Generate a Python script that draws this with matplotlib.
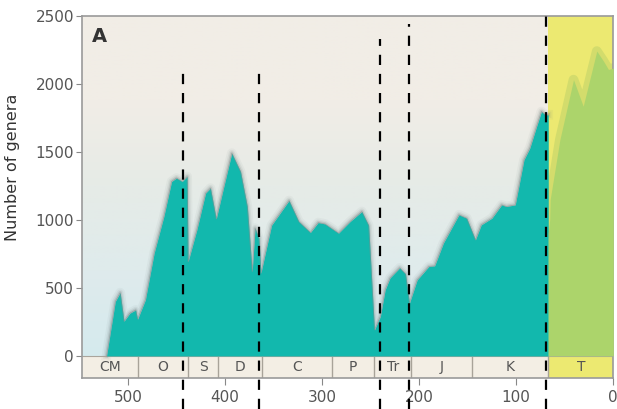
import numpy as np
import matplotlib.pyplot as plt
from matplotlib.colors import LinearSegmentedColormap

# marine genera through time (Myr ago -> number of genera)
ages = [522, 513, 508, 504, 498, 492, 490, 482, 473, 463, 455, 450, 444, 439, 438,
        429, 420, 415, 409, 402, 393, 384, 377, 372, 369, 365, 363, 360, 352, 334,
        324, 312, 304, 297, 283, 271, 259, 252, 246, 240, 235, 230, 220, 214, 210,
        202, 199, 190, 184, 175, 159, 151, 142, 136, 125, 115, 110, 101, 92, 86,
        79, 74, 70, 67]
genera = [0, 400, 465, 255, 314, 338, 270, 412, 755, 1024, 1282, 1307, 1282, 1318, 693,
          926, 1196, 1233, 1007, 1220, 1490, 1355, 1098, 620, 939, 865, 608, 705, 960, 1142,
          988, 907, 980, 970, 902, 988, 1061, 960, 191, 289, 485, 573, 647, 603, 387,
          559, 583, 657, 662, 829, 1037, 1012, 853, 963, 1012, 1110, 1098, 1110, 1441, 1527,
          1686, 1796, 1772, 1772]

# Tertiary part
t_ages = [67, 65.5, 65, 55, 41, 31, 17, 10, 5, 0]
t_genera = [900, 1000, 1150, 1590, 2030, 1835, 2240, 2165, 2105, 2115]

periods = ['CM', 'O', 'S', 'D', 'C', 'P', 'Tr', 'J', 'K', 'T']
bounds = [547, 490, 438, 407, 362, 290, 246, 208, 146, 67, 0]

extinctions = [443, 365, 240, 210, 69]
ext_tops = [2110, 2110, 2330, 2440, 2550]

fig = plt.figure(figsize=(6.17, 4.09), dpi=100)
ax = fig.add_axes([0.1334, 0.0758, 0.8606, 0.8858])
ax.set_xlim(547, 0)
ax.set_ylim(-162, 2500)

# background gradient
cmap = LinearSegmentedColormap.from_list('bg', ['#d5eaee', '#dfebec', '#e6ebe7', '#f1ede6', '#f1ede6'])
grad = np.linspace(0, 1, 256).reshape(-1, 1)
ax.imshow(grad, cmap=cmap, origin='lower', aspect='auto',
          extent=(547, 67, 0, 2500), zorder=0)

# teal curve with soft grey edge
for w, a in [(7, 0.06), (4.5, 0.1), (2.5, 0.2)]:
    ax.plot(ages, genera, color='#6e7c7c', lw=w, alpha=a, zorder=2,
            solid_joinstyle='round')
ax.fill_between(ages, genera, 0, color='#12b8ad', lw=0, zorder=3)
ax.plot(ages, genera, color='#7f8f8e', lw=0.6, alpha=0.6, zorder=4)

# Tertiary column
ax.fill_between([67, 0], [0, 0], [2500, 2500], color='#ece971', lw=0, zorder=1)
ax.plot(t_ages, t_genera, color='#d3dc6c', lw=7, zorder=2, solid_joinstyle='round')
ax.fill_between(t_ages, t_genera, 0, color='#acd46b', lw=0, zorder=3)

# time scale band
ax.fill_between([547, 67], [-162, -162], [0, 0], color='#f3eee4', lw=0, zorder=1)
ax.fill_between([67, 0], [-162, -162], [0, 0], color='#ece971', lw=0, zorder=1)
ax.vlines(bounds[1:-1], -162, 0, color='#a8a399', lw=1, zorder=2)
ax.axhline(0, color='#aaa59c', lw=0.8, zorder=2)
for i, p in enumerate(periods):
    ax.text((bounds[i] + bounds[i + 1]) / 2, -81, p, ha='center', va='center',
            fontsize=10, color='#555555', zorder=5)

# extinction lines
for x, top in zip(extinctions, ext_tops):
    ax.plot([x, x], [-390, top], color='black', lw=1.6, dashes=(4.6, 4.0),
            clip_on=False, zorder=6)

ax.text(529, 2344, 'A', fontsize=14, fontweight='bold', color='#333333',
        ha='center', va='center', zorder=5)

ax.set_xticks([500, 400, 300, 200, 100, 0])
ax.set_yticks([0, 500, 1000, 1500, 2000, 2500])
ax.tick_params(axis='x', direction='out', length=5, color='#888888',
               labelsize=11, labelcolor='#555555', pad=4)
ax.tick_params(axis='y', direction='out', length=4, color='#888888',
               labelsize=11, labelcolor='#555555', pad=2)
for s in ax.spines.values():
    s.set_color('#9a9a9a')
    s.set_linewidth(1.2)

ax.set_ylabel('Number of genera', fontsize=11.5, color='#333333')
ax.yaxis.set_label_coords(-0.117, 0.582)

plt.savefig('out.png', dpi=100)
